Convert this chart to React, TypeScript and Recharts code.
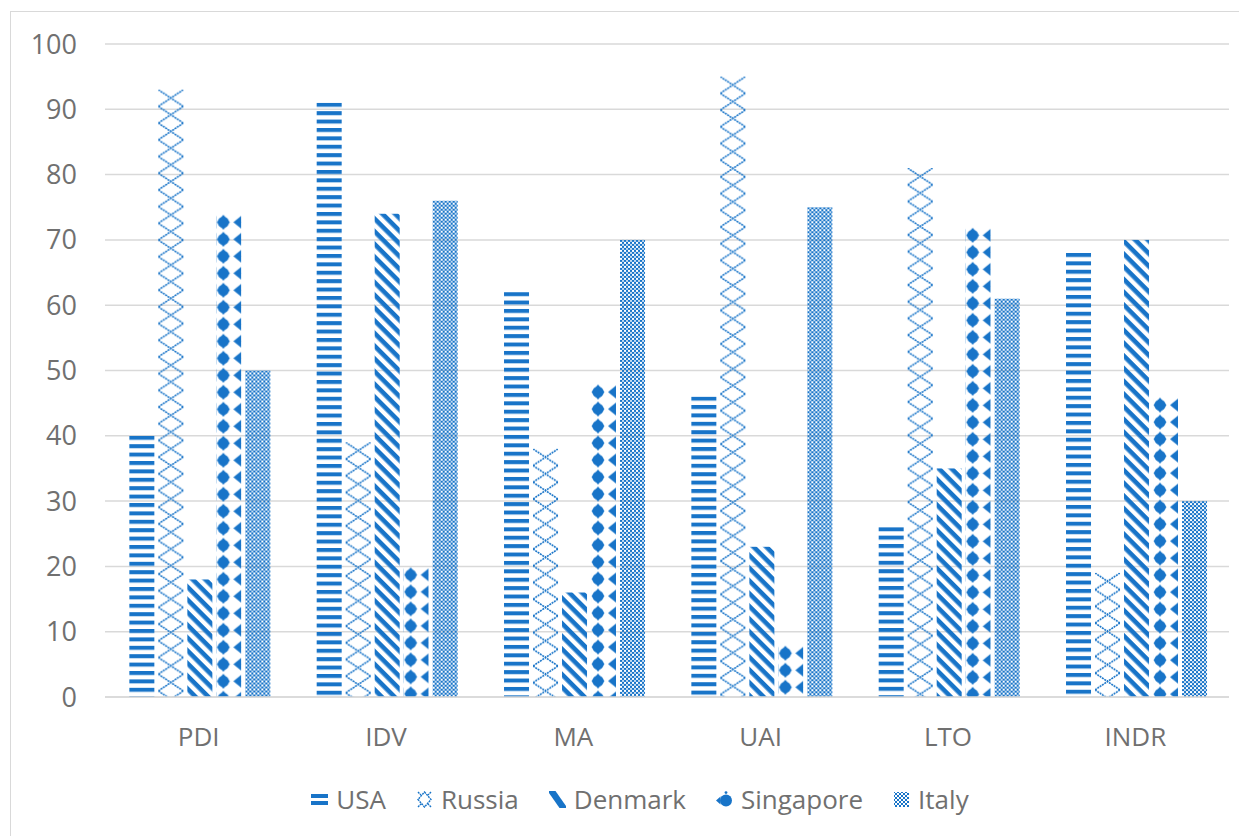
import React from "react";
import { BarChart, Bar, XAxis, YAxis, CartesianGrid, Legend } from "recharts";

const categories = ["PDI", "IDV", "MA", "UAI", "LTO", "INDR"];
const usa = [40, 91, 62, 46, 26, 68];
const russia = [93, 39, 38, 95, 81, 19];
const denmark = [18, 74, 16, 23, 35, 70];
const singapore = [74, 20, 48, 8, 72, 46];
const italy = [50, 76, 70, 75, 61, 30];
const yTicks = [0, 10, 20, 30, 40, 50, 60, 70, 80, 90, 100];

const seriesNames = ["USA", "Russia", "Denmark", "Singapore", "Italy"];
const seriesKeys = ["usa", "russia", "denmark", "singapore", "italy"];

const data = categories.map((cat, i) => ({
  cat,
  usa: usa[i],
  russia: russia[i],
  denmark: denmark[i],
  singapore: singapore[i],
  italy: italy[i],
}));

const BLUE = "#1874C8";
const GRID = "#d9d9d9";
const TEXT = "#707070";
const FONT = '"Open Sans", "Noto Sans", sans-serif';

// pattern for one bar, anchored at the bar's own corner
const patternDef = (kind: string, id: string, ox: number, oy: number, w: number) => {
  if (kind === "usa") {
    return (
      <pattern id={id} patternUnits="userSpaceOnUse" x={ox} y={oy} width={w} height={8.4}>
        <rect x={0} y={0} width={w} height={4} fill={BLUE} />
      </pattern>
    );
  }
  if (kind === "russia") {
    const h = 16.7;
    return (
      <pattern id={id} patternUnits="userSpaceOnUse" x={ox} y={oy} width={w} height={h}>
        <path d={`M0,0 L${w},${h} M${w},0 L0,${h}`} stroke={BLUE} strokeWidth={1.6} strokeDasharray="2 0.8" fill="none" />
      </pattern>
    );
  }
  if (kind === "denmark") {
    return (
      <pattern id={id} patternUnits="userSpaceOnUse" x={ox} y={oy} width={9} height={9} patternTransform="rotate(45)">
        <rect x={0} y={0} width={9} height={4.6} fill={BLUE} />
      </pattern>
    );
  }
  if (kind === "singapore") {
    const h = 17;
    return (
      <pattern id={id} patternUnits="userSpaceOnUse" x={ox} y={oy} width={w} height={h}>
        <path d={`M7,${h / 2 - 7.5} L13.5,${h / 2} L7,${h / 2 + 7.5} L0.5,${h / 2} Z`} fill={BLUE} />
        <circle cx={7} cy={h / 2} r={5.6} fill={BLUE} />
        <polygon points={`${w - 8},${h / 2} ${w},${h / 2 - 6.5} ${w},${h / 2 + 6.5}`} fill={BLUE} />
      </pattern>
    );
  }
  return (
    <pattern id={id} patternUnits="userSpaceOnUse" x={ox} y={oy} width={4} height={4}>
      <rect x={0} y={0} width={2} height={2} fill={BLUE} />
      <rect x={2} y={2} width={2} height={2} fill={BLUE} />
      <rect x={2} y={0} width={2} height={2} fill={BLUE} opacity={0.25} />
    </pattern>
  );
};

const makeShape = (kind: string) => (props: any) => {
  const { x, y, width, height, index } = props;
  if (!height || height <= 0) return <g />;
  const id = `pat-${kind}-${index}`;
  return (
    <g>
      <defs>{patternDef(kind, id, x, y, width)}</defs>
      <rect x={x} y={y} width={width} height={height} fill={`url(#${id})`} />
    </g>
  );
};

const Swatch = ({ kind }: { kind: string }) => {
  const id = `leg-${kind}`;
  let body: React.ReactNode = null;
  if (kind === "usa") {
    body = (
      <>
        <rect x={0} y={3} width={17} height={4} fill={BLUE} />
        <rect x={0} y={10} width={17} height={4} fill={BLUE} />
      </>
    );
  } else if (kind === "russia") {
    body = (
      <path d="M8.5,1 L15,8.5 L8.5,16 L2,8.5 Z M2,1 L5,4 M15,1 L12,4 M2,16 L5,13 M15,16 L12,13" stroke={BLUE} strokeWidth={1.4} strokeDasharray="2 0.8" fill="none" />
    );
  } else if (kind === "denmark") {
    body = <polygon points="0,0 6.5,0 17,15 17,17 10.5,17 0,2" fill={BLUE} />;
  } else if (kind === "singapore") {
    body = (
      <>
        <circle cx={10} cy={9.5} r={6} fill={BLUE} />
        <polygon points="0,9.5 4.5,5.5 4.5,13.5" fill={BLUE} />
        <circle cx={10} cy={1.6} r={1.4} fill={BLUE} />
      </>
    );
  } else {
    body = (
      <>
        <defs>
          <pattern id={id} patternUnits="userSpaceOnUse" width={4} height={4}>
            <rect x={0} y={0} width={2} height={2} fill={BLUE} />
            <rect x={2} y={2} width={2} height={2} fill={BLUE} />
          </pattern>
        </defs>
        <rect x={1} y={1} width={15} height={15} fill={`url(#${id})`} />
      </>
    );
  }
  return (
    <svg width={17} height={17} style={{ display: "block" }}>
      {body}
    </svg>
  );
};

const LegendContent = () => (
  <div
    style={{
      display: "flex",
      justifyContent: "center",
      alignItems: "center",
      height: 34,
      fontFamily: FONT,
      fontSize: 26,
      color: TEXT,
    }}
  >
    {seriesNames.map((name, i) => (
      <div key={name} style={{ display: "flex", alignItems: "center", marginLeft: i === 0 ? 0 : 30 }}>
        <Swatch kind={seriesKeys[i]} />
        <span style={{ marginLeft: 8, lineHeight: "34px" }}>{name}</span>
      </div>
    ))}
  </div>
);

const tickStyle = { fill: TEXT, fontSize: 26, fontFamily: FONT };

export default function App() {
  return (
    <div style={{ position: "relative", left: 2, top: 3 }}>
      <style>{`body{overflow:hidden}`}</style>
      <div style={{ width: 1258, height: 840, border: `1px solid ${GRID}`, fontFamily: FONT }}>
        <BarChart
          width={1258}
          height={840}
          data={data}
          margin={{ top: 32, right: 40, left: 0, bottom: 95 }}
          barCategoryGap="13%"
          barGap={4}
        >
          <CartesianGrid vertical={false} stroke={GRID} strokeWidth={1.5} />
          <XAxis
            dataKey="cat"
            height={60}
            axisLine={{ stroke: GRID, strokeWidth: 1.5 }}
            tickLine={false}
            tickSize={0}
            tickMargin={31}
            tick={tickStyle}
          />
          <YAxis
            width={94}
            domain={[0, 100]}
            ticks={yTicks}
            interval={0}
            axisLine={false}
            tickLine={false}
            tickSize={0}
            tickMargin={28}
            tick={{ ...tickStyle, fontSize: 27 }}
          />
          <Legend
            verticalAlign="middle"
            align="center"
            content={LegendContent}
            wrapperStyle={{ top: 770, left: 0, width: 1258 }}
          />
          {seriesKeys.map((k, i) => (
            <Bar
              key={k}
              dataKey={k}
              name={seriesNames[i]}
              fill={BLUE}
              shape={makeShape(k)}
              isAnimationActive={false}
            />
          ))}
        </BarChart>
      </div>
    </div>
  );
}
